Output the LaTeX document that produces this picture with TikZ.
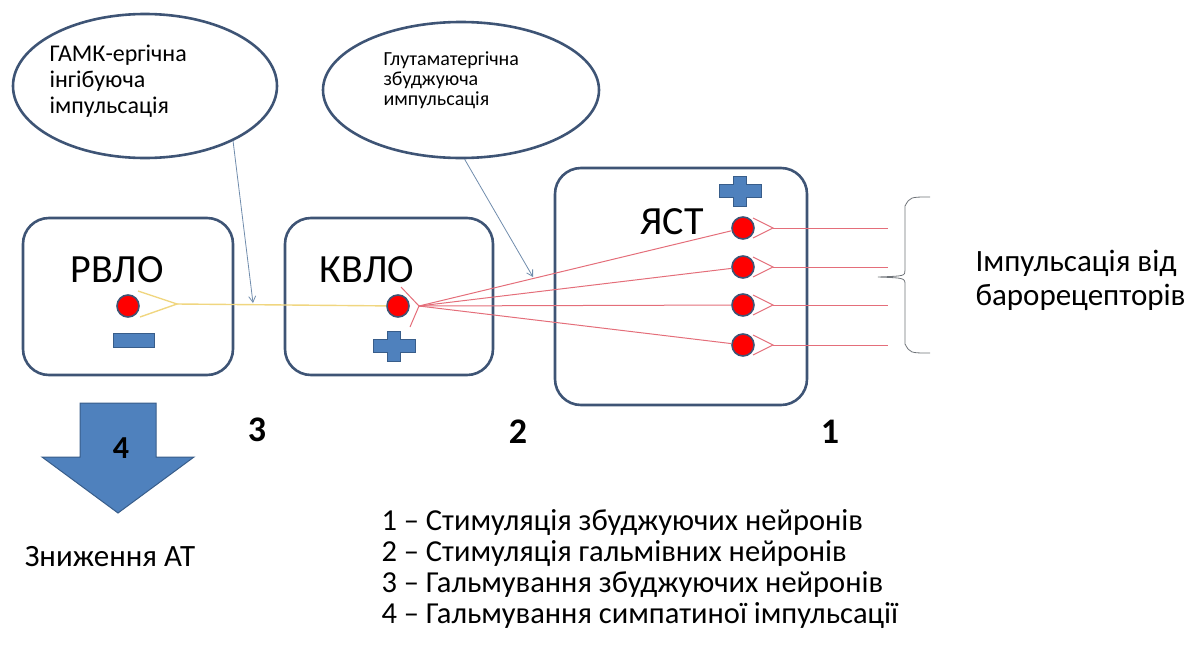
\documentclass[tikz,border=0pt]{standalone}
\usepackage{fontspec}
\setmainfont{Carlito}
\usetikzlibrary{arrows.meta,shapes.geometric}
\definecolor{boxblue}{RGB}{62,84,117}
\definecolor{fillblue}{RGB}{79,129,189}
\definecolor{edgeblue}{RGB}{56,93,138}
\definecolor{leadgray}{RGB}{112,140,172}
\definecolor{axonred}{RGB}{228,110,122}
\definecolor{axonyellow}{RGB}{240,214,128}
\definecolor{bracegray}{RGB}{110,115,120}
\tikzset{
  pics/plusmark/.style={code={
    \draw[signfill] (-21,-6.5) -- (-6.5,-6.5) -- (-6.5,-15) -- (6.5,-15) -- (6.5,-6.5)
      -- (21,-6.5) -- (21,6.5) -- (6.5,6.5) -- (6.5,15) -- (-6.5,15) -- (-6.5,6.5)
      -- (-21,6.5) -- cycle;
  }}
}
\begin{document}
\begin{tikzpicture}[x=1pt,y=-1pt,
    region/.style={draw=boxblue,line width=2.6pt,rounded corners=26pt,inner sep=0pt},
    bubble/.style={ellipse,draw=boxblue,line width=2.6pt,inner sep=0pt},
    dot/.style={circle,fill=red,draw=boxblue,line width=1.6pt,minimum size=22pt,inner sep=0pt},
    signfill/.style={fill=fillblue,draw=edgeblue,line width=1pt},
    redaxon/.style={draw=axonred,line width=1pt},
    yellowaxon/.style={draw=axonyellow,line width=1.4pt},
    leader/.style={draw=leadgray,line width=0.8pt,-{Straight Barb[length=6pt,width=7pt]}},
    areaname/.style={font=\fontsize{40}{42}\selectfont},
    stagenum/.style={font=\bfseries\fontsize{36}{36}\selectfont}]
  \useasboundingbox (0,0) rectangle (1202,646);

  % bubbles
  \node[bubble,minimum width=264pt,minimum height=144pt] (gaba) at (145,86) {};
  \node[anchor=west,align=left,font=\fontsize{24}{26}\selectfont] (gabatxt) at (46,81)
    {ГАМК-ергічна\\інгібуюча\\імпульсація};
  \node[bubble,minimum width=276pt,minimum height=136pt] (glu) at (461,90) {};
  \node[anchor=west,align=left,font=\fontsize{20}{20}\selectfont] (glutxt) at (380,80)
    {Глутаматергічна\\збуджуюча\\импульсація};

  % regions
  \node[region,minimum width=210pt,minimum height=157pt] (rvlo) at (128,296.5) {};
  \node[region,minimum width=208pt,minimum height=157pt] (kvlo) at (389,296.5) {};
  \node[region,minimum width=252pt,minimum height=237pt] (yast) at (681,286.5) {};
  \node[areaname] (rvlotxt) at (117,270) {РВЛО};
  \node[areaname] (kvlotxt) at (367,270) {КВЛО};
  \node[areaname] (yasttxt) at (672,222) {ЯСТ};

  % neurons and axons
  \coordinate (rtip) at (177,304);
  \coordinate (ktip) at (419,306);
  \node[dot] (rdot) at (128,306) {};
  \node[dot] (kdot) at (398,306) {};
  \draw[yellowaxon] (138,291) -- (rtip) -- (140,317);
  \draw[yellowaxon] (rtip) -- (kdot);
  \draw[redaxon] (401,287) -- (ktip) -- (410,327);
  \foreach \y [count=\i] in {228,267,305,345}{
    \node[dot] (n\i) at (743,\y) {};
    \coordinate (t\i) at (773,\y);
    \coordinate (b\i) at (888,\y);
    \draw[redaxon] (753,\y-10) -- (t\i) -- (753,\y+10);
    \draw[redaxon] (t\i) -- (b\i);
    \draw[redaxon] (ktip) -- (n\i);
  }

  % signs
  \draw[signfill] (113,333) rectangle (154,347);
  \pic at (394,346) {plusmark};
  \pic at (740,191) {plusmark};

  % leaders
  \coordinate (g1) at (253,303);
  \coordinate (g2) at (533,277);
  \draw[leader] (gaba.-32) -- (g1);
  \draw[leader] (glu.-87) -- (g2);

  % baroreceptors
  \draw[bracegray,line width=0.8pt] (930,197) .. controls (910,197) .. (905,206) -- (905,270)
    .. controls (905,276) .. (878,277) .. controls (905,278) .. (905,285) -- (905,344)
    .. controls (910,353) .. (930,353);
  \node[anchor=west,align=left,font=\fontsize{31}{34}\selectfont] (baro) at (972,280)
    {Імпульсація від\\барорецепторів};

  % stage numbers
  \node[stagenum] (s3) at (257,430) {3};
  \node[stagenum] (s2) at (518,432) {2};
  \node[stagenum] (s1) at (830,432) {1};

  % pressure drop
  \draw[signfill] (80,403) -- (156,403) -- (156,457) -- (194,457) -- (118,513)
    -- (42,457) -- (80,457) -- cycle;
  \node[font=\bfseries\fontsize{32}{32}\selectfont] (s4) at (121,448) {4};
  \node[font=\fontsize{31}{32}\selectfont] (drop) at (110,557) {Зниження АТ};

  % legend
  \node[anchor=west,align=left,font=\fontsize{30.5}{31}\selectfont] (legend) at (378,569)
    {1 – Стимуляція збуджуючих нейронів\\2 – Стимуляція гальмівних нейронів\\
     3 – Гальмування збуджуючих нейронів\\4 – Гальмування симпатиної імпульсації};
\end{tikzpicture}
\end{document}
